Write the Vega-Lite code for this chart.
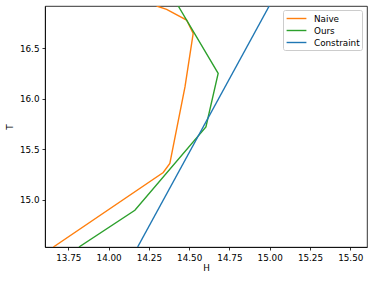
{
  "$schema": "https://vega.github.io/schema/vega-lite/v6.json",
  "width": 322,
  "height": 241,
  "autosize": {"type": "none"},
  "padding": {"left": 45, "top": 6, "right": 7, "bottom": 34},
  "background": "white",
  "config": {
    "font": "DejaVu Sans",
    "view": {"stroke": "black", "strokeWidth": 0.8},
    "axis": {
      "grid": false,
      "domainColor": "black",
      "domainWidth": 0.8,
      "tickColor": "black",
      "tickWidth": 0.8,
      "tickSize": 3,
      "labelColor": "black",
      "labelFontSize": 8.8,
      "labelPadding": 3,
      "titleColor": "black",
      "titleFontSize": 8.8,
      "titleFontWeight": "normal"
    },
    "legend": {
      "labelFontSize": 8.8,
      "labelColor": "black",
      "symbolType": "M-1.8,0H1.8",
      "symbolStrokeWidth": 1.4,
      "symbolSize": 121,
      "symbolOffset": 5,
      "strokeColor": "#cccccc",
      "fillColor": "white",
      "cornerRadius": 2,
      "padding": 2,
      "rowPadding": 0,
      "labelOffset": 11
    }
  },
  "data": {
    "values": [
      {"series": "Naive", "i": 1, "H": 13.657, "T": 14.534},
      {"series": "Naive", "i": 2, "H": 14.339, "T": 15.272},
      {"series": "Naive", "i": 3, "H": 14.380, "T": 15.361},
      {"series": "Naive", "i": 4, "H": 14.474, "T": 16.119},
      {"series": "Naive", "i": 5, "H": 14.525, "T": 16.649},
      {"series": "Naive", "i": 6, "H": 14.484, "T": 16.781},
      {"series": "Naive", "i": 7, "H": 14.360, "T": 16.887},
      {"series": "Naive", "i": 8, "H": 14.298, "T": 16.92},
      {"series": "Ours", "i": 1, "H": 13.816, "T": 14.534},
      {"series": "Ours", "i": 2, "H": 14.163, "T": 14.898},
      {"series": "Ours", "i": 3, "H": 14.604, "T": 15.722},
      {"series": "Ours", "i": 4, "H": 14.680, "T": 16.252},
      {"series": "Ours", "i": 5, "H": 14.432, "T": 16.92},
      {"series": "Constraint", "i": 1, "H": 14.18, "T": 14.534},
      {"series": "Constraint", "i": 2, "H": 14.997, "T": 16.92}
    ]
  },
  "mark": {"type": "line", "clip": true, "strokeWidth": 1.4},
  "encoding": {
    "x": {
      "field": "H",
      "type": "quantitative",
      "scale": {"domain": [13.605, 15.604], "nice": false, "zero": false},
      "axis": {"values": [13.75, 14.0, 14.25, 14.5, 14.75, 15.0, 15.25, 15.5], "format": ".2f", "title": "H", "titlePadding": 2}
    },
    "y": {
      "field": "T",
      "type": "quantitative",
      "scale": {"domain": [14.534, 16.92], "nice": false, "zero": false},
      "axis": {"values": [15.0, 15.5, 16.0, 16.5], "format": ".1f", "title": "T", "titlePadding": 5}
    },
    "color": {
      "field": "series",
      "type": "nominal",
      "scale": {"domain": ["Naive", "Ours", "Constraint"], "range": ["#ff7f0e", "#2ca02c", "#1f77b4"]},
      "legend": {"title": null, "orient": "none", "legendX": 238, "legendY": 4}
    },
    "order": {"field": "i", "type": "quantitative"}
  }
}
